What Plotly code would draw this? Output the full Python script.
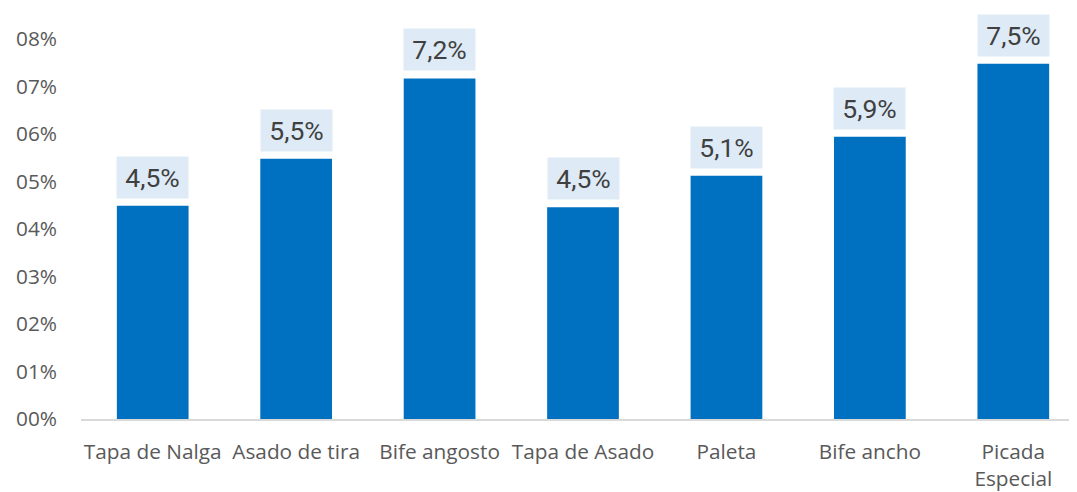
import plotly.graph_objects as go

categories = ["Tapa de Nalga", "Asado de tira", "Bife angosto", "Tapa de Asado",
              "Paleta", "Bife ancho", "Picada<br>Especial"]
values = [0.0449, 0.0548, 0.0717, 0.0446, 0.0512, 0.0594, 0.0748]
tick_vals = [0, 0.01, 0.02, 0.03, 0.04, 0.05, 0.06, 0.07, 0.08]
tick_text = ["00%", "01%", "02%", "03%", "04%", "05%", "06%", "07%", "08%"]

labels = [f"{v*100:.1f}".replace(".", ",") + "%" for v in values]

fig = go.Figure()
fig.add_trace(go.Bar(
    x=categories, y=values, width=0.5,
    marker=dict(color="#0070C0", line=dict(width=0)),
    hoverinfo="skip",
))

for c, v, t in zip(categories, values, labels):
    fig.add_annotation(
        x=c, y=v, xref="x", yref="y", text=t, showarrow=False,
        yanchor="bottom", yshift=7, width=69, height=39, borderpad=1,
        bgcolor="#DEEBF7", font=dict(family="Roboto", size=26.5, color="#404040"),
    )

fig.update_layout(
    width=1077, height=492,
    margin=dict(l=69, r=8, t=31, b=77),
    paper_bgcolor="white", plot_bgcolor="white",
    showlegend=False,
    font=dict(family="Open Sans", size=20.8, color="#595959"),
    xaxis=dict(
        range=[-0.5, 6.444], showline=True, linecolor="#D9D9D9", linewidth=2,
        showgrid=False, ticks="", ticklabelstandoff=13,
        tickfont=dict(family="Open Sans", size=20.8, color="#595959"),
    ),
    yaxis=dict(
        range=[0, 0.08], tickvals=tick_vals, ticktext=tick_text,
        showgrid=False, zeroline=False, showline=False, ticks="",
        ticklabelstandoff=23,
        tickfont=dict(family="Open Sans", size=20.8, color="#595959"),
    ),
)

fig.write_html("out.html", config={"displayModeBar": False})
